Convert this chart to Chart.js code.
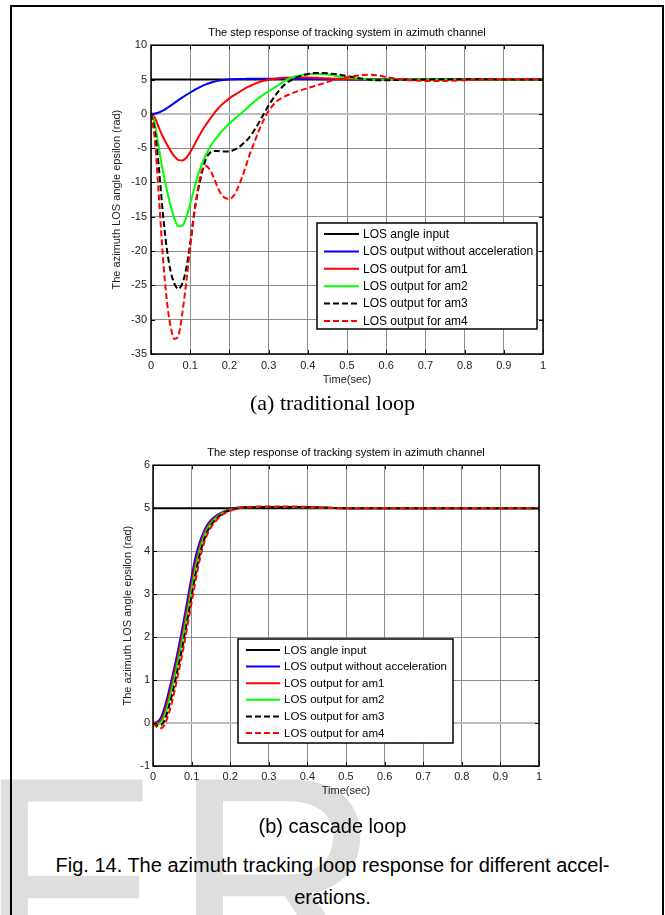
<!DOCTYPE html>
<html>
<head>
<meta charset="utf-8">
<script src="https://cdn.jsdelivr.net/npm/chart.js@4.4.0/dist/chart.umd.min.js"></script>
<style>
  html, body { margin: 0; padding: 0; background: #fff; }
  body { width: 665px; height: 915px; position: relative; overflow: hidden; font-family: "Liberation Sans", Arial, sans-serif; }
  #frame { position: absolute; left: 10px; top: 5px; width: 650px; height: 1000px; border: 2px solid #000; }
  #wm { position: absolute; left: -23px; top: 733px; font: 290px/1 "Liberation Sans", Arial, sans-serif; color: #dedede; letter-spacing: 18px; white-space: nowrap; }
  canvas { position: absolute; left: 0; }
  .cap { position: absolute; left: 0; width: 665px; text-align: center; color: #000; white-space: nowrap; }
</style>
</head>
<body>
<div id="wm">FR</div>
<div id="frame"></div>
<canvas id="c1" width="665" height="395" style="top:0"></canvas>
<div class="cap" style="top:392px; font: 22px/1 'Liberation Serif', 'DejaVu Serif', serif;">(a) traditional loop</div>
<canvas id="c2" width="665" height="387" style="top:420px"></canvas>
<div class="cap" style="top:816px; font: 20px/1 'Liberation Sans', Arial, sans-serif;">(b) cascade loop</div>
<div class="cap" style="top:855px; font: 20px/1 'Liberation Sans', Arial, sans-serif;">Fig. 14. The azimuth tracking loop response for different accel-</div>
<div class="cap" style="top:887px; font: 20px/1 'Liberation Sans', Arial, sans-serif;">erations.</div>

<script>
// ---- data: (a) traditional loop ----
const chartTitle = "The step response of tracking system in azimuth channel";
const xTitle = "Time(sec)";
const yTitle = "The azimuth LOS angle epsilon (rad)";
const seriesNames = ["LOS angle input", "LOS output without acceleration", "LOS output for am1", "LOS output for am2", "LOS output for am3", "LOS output for am4"];

const xTickVals = [0, 0.1, 0.2, 0.3, 0.4, 0.5, 0.6, 0.7, 0.8, 0.9, 1];
const xTickLabels = ["0", "0.1", "0.2", "0.3", "0.4", "0.5", "0.6", "0.7", "0.8", "0.9", "1"];
const yTickValsA = [10, 5, 0, -5, -10, -15, -20, -25, -30, -35];
const yTickValsB = [6, 5, 4, 3, 2, 1, 0, -1];

const inputT = [0, 1];
const inputV = [5, 5];

const timeA = [0, 0.01, 0.02, 0.03, 0.04, 0.05, 0.06, 0.07, 0.08, 0.09,
  0.10, 0.11, 0.12, 0.13, 0.14, 0.15, 0.16, 0.17, 0.18, 0.19,
  0.20, 0.21, 0.22, 0.23, 0.24, 0.25, 0.26, 0.27, 0.28, 0.29, 0.30,
  0.32, 0.34, 0.36, 0.38, 0.40, 0.42, 0.44, 0.46, 0.48, 0.50, 0.52, 0.54, 0.56, 0.58, 0.60,
  0.65, 0.70, 0.75, 0.80, 0.85, 0.90, 0.95, 1.00];
const noAccA = [0, 0.05, 0.2, 0.45, 0.8, 1.2, 1.6, 2.0, 2.4, 2.75,
  3.1, 3.45, 3.75, 4.05, 4.3, 4.5, 4.67, 4.8, 4.9, 4.97,
  5.02, 5.05, 5.07, 5.08, 5.09, 5.1, 5.1, 5.1, 5.1, 5.1, 5.1,
  5.1, 5.1, 5.09, 5.08, 5.07, 5.06, 5.05, 5.04, 5.03, 5.02, 5.01, 5.01, 5.0, 5.0, 5.0,
  5, 5, 5, 5, 5, 5, 5, 5];
const am1A = [0, -0.6, -2.0, -3.3, -4.4, -5.4, -6.2, -6.75, -6.8, -6.4,
  -5.6, -4.6, -3.5, -2.5, -1.6, -0.8, 0.0, 0.7, 1.3, 1.8,
  2.25, 2.65, 3.0, 3.35, 3.7, 4.0, 4.25, 4.5, 4.7, 4.85, 4.97,
  5.15, 5.25, 5.3, 5.32, 5.3, 5.25, 5.2, 5.15, 5.1, 5.05, 5.02, 5.0, 4.99, 4.98, 4.98,
  4.99, 5, 5, 5, 5, 5, 5, 5];
const am2A = [0, -1.5, -5.0, -8.2, -11.0, -13.4, -15.3, -16.4, -16.3, -15.1,
  -13.1, -11.0, -8.9, -7.3, -6.0, -4.9, -4.0, -3.3, -2.6, -2.0,
  -1.4, -0.9, -0.4, 0.1, 0.6, 1.1, 1.6, 2.1, 2.5, 2.9, 3.3,
  4.0, 4.75, 5.3, 5.6, 5.8, 5.85, 5.8, 5.65, 5.45, 5.3, 5.18, 5.08, 5.0, 4.96, 4.96,
  4.98, 5, 5, 5, 5, 5, 5, 5];
const am3A = [0, -2.5, -7.8, -14.3, -19.5, -22.9, -24.8, -25.5, -24.7, -22.5,
  -18.9, -14.5, -11.2, -8.6, -6.6, -5.7, -5.4, -5.4, -5.5, -5.5,
  -5.5, -5.3, -5.0, -4.6, -4.1, -3.5, -2.7, -1.8, -0.8, 0.2, 1.2,
  2.9, 4.2, 5.0, 5.5, 5.8, 5.95, 5.95, 5.85, 5.7, 5.5, 5.3, 5.1, 4.95, 4.9, 4.9,
  4.95, 5.0, 5.05, 5.05, 5.05, 5.0, 5.0, 5.0];
const am4A = [0, -3.9, -12.0, -20.5, -27.0, -31.0, -32.8, -32.3, -29.0, -24.5,
  -19.5, -14.8, -10.8, -8.2, -7.6, -8.1, -9.3, -10.7, -11.8, -12.3,
  -12.4, -12.0, -11.0, -9.6, -8.0, -6.2, -4.7, -3.2, -1.8, -0.6, 0.4,
  1.8, 2.5, 3.0, 3.4, 3.75, 4.1, 4.45, 4.8, 5.1, 5.3, 5.5, 5.65, 5.7, 5.6, 5.35,
  4.95, 4.8, 4.8, 4.9, 5.0, 5.05, 5.05, 5.0];

// ---- data: (b) cascade loop ----
const timeB = [0, 0.01, 0.02, 0.03, 0.04, 0.05, 0.06, 0.07, 0.08, 0.09,
  0.10, 0.11, 0.12, 0.13, 0.14, 0.15, 0.16, 0.17, 0.18, 0.19,
  0.20, 0.21, 0.22, 0.23, 0.24, 0.25,
  0.30, 0.35, 0.40, 0.45, 0.50, 0.55, 0.60, 0.65, 0.70, 0.75, 0.80, 0.85, 0.90, 0.95, 1.00];
const noAccB = [0, 0.02, 0.12, 0.36, 0.7, 1.08, 1.48, 1.92, 2.4, 2.9,
  3.4, 3.85, 4.18, 4.42, 4.6, 4.72, 4.8, 4.86, 4.91, 4.95,
  4.98, 5.0, 5.01, 5.02, 5.02, 5.03,
  5.03, 5.03, 5.02, 5.01, 5, 5, 5, 5, 5, 5, 5, 5, 5, 5, 5];
const am1B = [0, 0.0, 0.06, 0.26, 0.58, 0.95, 1.35, 1.78, 2.25, 2.75,
  3.25, 3.72, 4.08, 4.35, 4.55, 4.68, 4.77, 4.84, 4.9, 4.94,
  4.97, 4.99, 5.01, 5.02, 5.02, 5.03,
  5.03, 5.03, 5.02, 5.01, 5, 5, 5, 5, 5, 5, 5, 5, 5, 5, 5];
const am2B = [0, -0.03, 0.0, 0.16, 0.46, 0.82, 1.22, 1.64, 2.1, 2.6,
  3.1, 3.58, 3.98, 4.28, 4.5, 4.64, 4.74, 4.82, 4.88, 4.93,
  4.96, 4.98, 5.0, 5.01, 5.02, 5.02,
  5.03, 5.03, 5.02, 5.01, 5, 5, 5, 5, 5, 5, 5, 5, 5, 5, 5];
const am3B = [0, -0.06, -0.05, 0.06, 0.34, 0.68, 1.08, 1.5, 1.95, 2.45,
  2.95, 3.45, 3.88, 4.2, 4.44, 4.6, 4.71, 4.8, 4.87, 4.92,
  4.95, 4.98, 5.0, 5.01, 5.02, 5.02,
  5.03, 5.03, 5.02, 5.01, 5, 5, 5, 5, 5, 5, 5, 5, 5, 5, 5];
const am4B = [0, -0.09, -0.12, -0.04, 0.2, 0.52, 0.92, 1.35, 1.8, 2.3,
  2.8, 3.3, 3.76, 4.12, 4.38, 4.55, 4.67, 4.77, 4.85, 4.9,
  4.94, 4.97, 4.99, 5.01, 5.02, 5.03,
  5.04, 5.04, 5.03, 5.01, 5, 5, 5, 5, 5, 5, 5, 5, 5, 5, 5];

const FONT = '"Liberation Sans", Arial, sans-serif';
Chart.defaults.font.family = FONT;
Chart.defaults.color = "#000";

const pts = (ts, vs) => ts.map((t, i) => ({ x: t, y: vs[i] }));

// axes box with inward ticks (matlab style) + the legend box
const axesBox = {
  id: "axesBox",
  afterDraw(chart, args, opts) {
    const { ctx, chartArea: a, scales } = chart;
    ctx.save();
    ctx.strokeStyle = "#000";
    ctx.lineWidth = 1.5;
    ctx.strokeRect(a.left, a.top, a.width, a.height);
    ctx.lineWidth = 1;
    const tl = 4;
    ctx.beginPath();
    scales.x.ticks.forEach(t => {
      const px = Math.round(scales.x.getPixelForValue(t.value)) + 0.5;
      ctx.moveTo(px, a.bottom); ctx.lineTo(px, a.bottom - tl);
      ctx.moveTo(px, a.top); ctx.lineTo(px, a.top + tl);
    });
    scales.y.ticks.forEach(t => {
      const py = Math.round(scales.y.getPixelForValue(t.value)) + 0.5;
      ctx.moveTo(a.left, py); ctx.lineTo(a.left + tl, py);
      ctx.moveTo(a.right, py); ctx.lineTo(a.right - tl, py);
    });
    ctx.stroke();

    const L = opts.legend;
    ctx.fillStyle = "#fff";
    ctx.fillRect(L.left, L.top, L.width, L.height);
    ctx.lineWidth = 1.5;
    ctx.strokeStyle = "#000";
    ctx.strokeRect(L.left, L.top, L.width, L.height);
    ctx.font = L.fontSize + "px " + FONT;
    ctx.textBaseline = "middle";
    ctx.textAlign = "left";
    chart.data.datasets.forEach((ds, i) => {
      const y = L.top + L.first + i * L.rowH;
      ctx.beginPath();
      ctx.strokeStyle = ds.borderColor;
      ctx.lineWidth = ds.borderWidth;
      ctx.setLineDash(ds.borderDash || []);
      ctx.moveTo(L.left + L.lineX, y);
      ctx.lineTo(L.left + L.lineX + L.lineLen, y);
      ctx.stroke();
      ctx.setLineDash([]);
      ctx.fillStyle = "#000";
      ctx.fillText(ds.label, L.left + L.textX, y + 0.5);
    });
    ctx.restore();
  }
};

function makeChart(id, times, series, yTicks, cfg) {
  const colors = ["#000000", "#0000ff", "#ff0000", "#00ff00", "#000000", "#ff0000"];
  const dashes = [[], [], [], [], [6, 3], [6, 3]];
  const datasets = series.map((s, i) => ({
    label: seriesNames[i],
    data: i === 0 ? pts(inputT, inputV) : pts(times, s),
    borderColor: colors[i],
    borderWidth: 2,
    borderDash: dashes[i],
    pointRadius: 0,
    fill: false,
    cubicInterpolationMode: "monotone",
    order: series.length - i
  }));
  return new Chart(document.getElementById(id), {
    type: "line",
    data: { datasets },
    plugins: [axesBox],
    options: {
      responsive: false,
      animation: false,
      devicePixelRatio: 1,
      layout: { padding: cfg.padding },
      plugins: {
        legend: { display: false },
        tooltip: { enabled: false },
        title: {
          display: true, text: chartTitle, fullSize: false, color: "#000",
          font: { size: 11, weight: "normal" }, padding: { top: 0, bottom: 6 }
        },
        axesBox: { legend: cfg.legend }
      },
      scales: {
        x: {
          type: "linear", min: 0, max: 1,
          afterBuildTicks: s => { s.ticks = xTickVals.map(v => ({ value: v })); },
          afterFit: s => { s.height = 36; },
          ticks: { padding: cfg.xTickPad, color: "#222", font: { size: 11 }, maxRotation: 0,
            callback: (v, i) => xTickLabels[i] },
          grid: { color: "#8c8c8c", lineWidth: 1, drawTicks: false },
          border: { display: false },
          title: { display: true, text: xTitle, color: "#222", font: { size: 11 }, padding: { top: 0, bottom: cfg.xTitlePad } }
        },
        y: {
          type: "linear", min: yTicks[yTicks.length - 1], max: yTicks[0],
          afterBuildTicks: s => { s.ticks = yTicks.slice().reverse().map(v => ({ value: v })); },
          afterFit: s => { s.width = 46; },
          ticks: { padding: cfg.yTickPad, color: "#222", font: { size: 11 }, callback: v => String(v) },
          grid: {
            color: c => (c.tick && c.tick.value === 0 ? "#bdbdbd" : "#8c8c8c"),
            lineWidth: c => (c.tick && c.tick.value === 0 ? 2 : 1),
            drawTicks: false
          },
          border: { display: false },
          title: { display: true, text: yTitle, color: "#222", font: { size: 11 }, padding: { top: cfg.yTitlePad, bottom: 0 } }
        }
      }
    }
  });
}

makeChart("c1", timeA, [inputV, noAccA, am1A, am2A, am3A, am4A], yTickValsA, {
  padding: { left: 105, right: 122, top: 26, bottom: 5 },
  xTickPad: 5, xTitlePad: 3, yTickPad: 4, yTitlePad: 5,
  legend: { left: 317, top: 223, width: 220, height: 106, first: 11, rowH: 17.4, lineX: 7, lineLen: 35, textX: 46, fontSize: 12 }
});

makeChart("c2", timeB, [inputV, noAccB, am1B, am2B, am3B, am4B], yTickValsB, {
  padding: { left: 107, right: 126, top: 26, bottom: 5 },
  xTickPad: 4, xTitlePad: 4, yTickPad: 3, yTitlePad: 14,
  legend: { left: 238, top: 219, width: 215, height: 104, first: 11, rowH: 16.6, lineX: 8, lineLen: 34, textX: 46, fontSize: 11.5 }
});
</script>
</body>
</html>
